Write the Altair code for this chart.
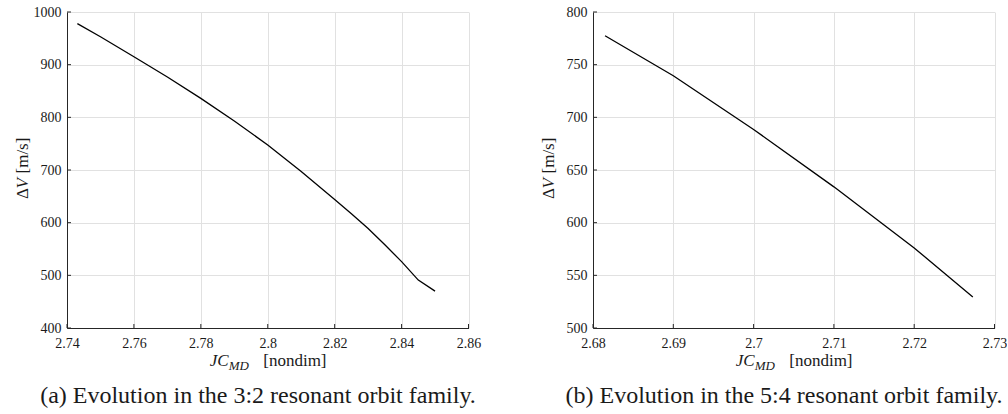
import altair as alt
import pandas as pd

# ---- data ----
jc_32 = [2.7431, 2.75, 2.76, 2.77, 2.78, 2.79, 2.80, 2.81, 2.82, 2.825, 2.83, 2.835, 2.84, 2.845, 2.85]
dv_32 = [978, 953, 915, 876.5, 836, 793, 747.5, 697, 644, 617, 589, 558, 526, 491, 470]
jc_54 = [2.6815, 2.69, 2.70, 2.71, 2.72, 2.7273]
dv_54 = [777.5, 739.5, 688.5, 634, 576, 529.5]

x_ticks_32 = [2.74, 2.76, 2.78, 2.80, 2.82, 2.84, 2.86]
y_ticks_32 = [400, 500, 600, 700, 800, 900, 1000]
x_ticks_54 = [2.68, 2.69, 2.70, 2.71, 2.72, 2.73]
y_ticks_54 = [500, 550, 600, 650, 700, 750, 800]

caption_a = "(a)  Evolution in the 3:2 resonant orbit family."
caption_b = "(b)  Evolution in the 5:4 resonant orbit family."

W, H = 401.5, 316
FONT = "'Liberation Serif', 'Times New Roman', 'DejaVu Serif', serif"
INK = "#262626"
dummy = pd.DataFrame({"d": [0]})


def txt(s, x, y, size, style="normal", angle=0, align="left"):
    return alt.Chart(dummy).mark_text(
        text=s, font=FONT, fontSize=size, fontStyle=style, angle=angle,
        align=align, baseline="alphabetic", color="#1a1a1a"
    ).encode(x=alt.value(x), y=alt.value(y))


def panel(xs, ys, xdom, ydom, xt, yt, caption):
    df = pd.DataFrame({"x": xs, "y": ys})
    xsc = alt.Scale(domain=xdom, nice=False, zero=False)
    ysc = alt.Scale(domain=ydom, nice=False, zero=False)
    xax = alt.Axis(values=xt, format=".2~f", title=None, grid=True, ticks=False, tickSize=0,
                   labelPadding=8, labelFont=FONT, labelFontSize=14, labelColor="#1a1a1a",
                   domainColor=INK, domainWidth=1, gridColor="#e1e1e1", gridWidth=1,
                   labelFlush=False, labelOverlap=False)
    yax = alt.Axis(values=yt, format="d", title=None, grid=True, ticks=False, tickSize=0,
                   labelPadding=6, labelFont=FONT, labelFontSize=14, labelColor="#1a1a1a",
                   domainColor=INK, domainWidth=1, gridColor="#e1e1e1", gridWidth=1,
                   labelFlush=False, labelOverlap=False)
    line = alt.Chart(df).mark_line(color="black", strokeWidth=1.3).encode(
        x=alt.X("x:Q", scale=xsc, axis=xax),
        y=alt.Y("y:Q", scale=ysc, axis=yax),
    )
    xtick = alt.Chart(pd.DataFrame({"x": xt})).mark_rule(color=INK, strokeWidth=1).encode(
        x=alt.X("x:Q", scale=xsc, axis=xax), y=alt.value(H), y2=alt.value(H - 4)
    )
    ytick = alt.Chart(pd.DataFrame({"y": yt})).mark_rule(color=INK, strokeWidth=1).encode(
        y=alt.Y("y:Q", scale=ysc, axis=yax), x=alt.value(0), x2=alt.value(4)
    )
    c = W / 2
    texts = [
        txt("JC", c - 58, H + 38, 17, "italic"),
        txt("MD", c - 39, H + 41.5, 13, "italic"),
        txt("[nondim]", c - 4.5, H + 38, 17),
        txt("Δ", -39.5, 187, 17, angle=270),
        txt("V", -39.5, 176.5, 17, "italic", angle=270),
        txt("[m/s]", -39.5, 161.5, 17, angle=270),
        txt(caption, 191, H + 75, 24, align="center"),
    ]
    return alt.layer(line, xtick, ytick, *texts).properties(width=W, height=H)


p1 = panel(jc_32, dv_32, [2.74, 2.86], [400, 1000], x_ticks_32, y_ticks_32, caption_a)
p2 = panel(jc_54, dv_54, [2.68, 2.73], [500, 800], x_ticks_54, y_ticks_54, caption_b)

chart = (
    alt.hconcat(p1, p2, spacing=124, bounds="flush")
    .properties(padding={"left": 13, "top": 5, "right": 0, "bottom": 0}, background="white")
    .configure_view(stroke=None)
)

chart.save("out.html", embed_options={"renderer": "svg", "actions": False})
